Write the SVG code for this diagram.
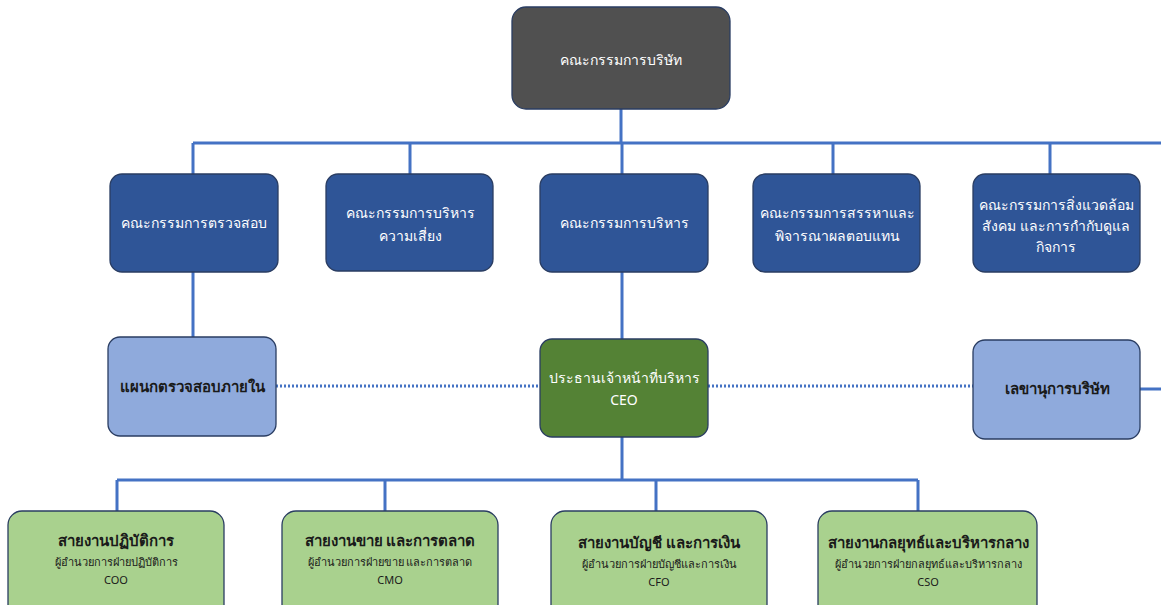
<svg xmlns="http://www.w3.org/2000/svg" width="1161" height="605" viewBox="0 0 1161 605">
<style>
text{font-family:"Noto Sans","Liberation Sans",sans-serif;text-anchor:middle;}
.box{stroke:#2A3D62;stroke-width:1.3;}
.top{fill:#505050;}
.l2{fill:#2F5597;}
.l3{fill:#8FAADC;}
.ceo{fill:#548235;}
.l4{fill:#A9D18E;}
.w{fill:#ffffff;font-size:14px;}
.d{fill:#1a1a1a;font-size:15px;font-weight:bold;}
.t4{fill:#1a1a1a;font-size:15px;font-weight:bold;}
.s4{fill:#1a1a1a;font-size:11px;}
.ln{stroke:#4472C4;stroke-width:3;fill:none;}
.dot{stroke:#4472C4;stroke-width:3;fill:none;stroke-dasharray:2 2;}
</style>
<g id="connectors">
<path class="ln" d="M621 109V143M193 143H1161M193 143V174M410 143V174M622 143V174M833 143V174M1050 143V174"/>
<path class="ln" d="M193 272V337M622 272V339M1140 389H1161"/>
<path class="dot" d="M276 386H540M708 386H973"/>
<path class="ln" d="M622 437V480M117 480H918M117 480V511M385 480V511M656 480V511M918 480V511"/>
</g>
<g id="board"><rect class="box top" x="512" y="7" width="218" height="102" rx="14"/><text class="w" x="621" y="65">คณะกรรมการบริษัท</text></g>
<g id="audit"><rect class="box l2" x="110" y="174" width="168" height="98" rx="12"/><text class="w" x="194" y="228">คณะกรรมการตรวจสอบ</text></g>
<g id="risk"><rect class="box l2" x="326" y="174" width="167" height="97" rx="12"/><text class="w" x="410" y="218">คณะกรรมการบริหาร</text><text class="w" x="410" y="241">ความเสี่ยง</text></g>
<g id="exec"><rect class="box l2" x="540" y="174" width="168" height="98" rx="12"/><text class="w" x="624" y="228">คณะกรรมการบริหาร</text></g>
<g id="nomination"><rect class="box l2" x="753" y="174" width="167" height="98" rx="12"/><text class="w" x="837" y="218">คณะกรรมการสรรหาและ</text><text class="w" x="837" y="241">พิจารณาผลตอบแทน</text></g>
<g id="esg"><rect class="box l2" x="973" y="174" width="167" height="98" rx="12"/><text class="w" x="1056" y="210">คณะกรรมการสิ่งแวดล้อม</text><text class="w" x="1056" y="231">สังคม และการกำกับดูแล</text><text class="w" x="1056" y="252">กิจการ</text></g>
<g id="internal-audit"><rect class="box l3" x="108" y="337" width="168" height="99" rx="12"/><text class="d" x="192" y="392">แผนกตรวจสอบภายใน</text></g>
<g id="ceo"><rect class="box ceo" x="540" y="339" width="168" height="98" rx="12"/><text class="w" x="624" y="383">ประธานเจ้าหน้าที่บริหาร</text><text class="w" x="624" y="405">CEO</text></g>
<g id="secretary"><rect class="box l3" x="973" y="340" width="167" height="99" rx="12"/><text class="d" x="1057" y="394">เลขานุการบริษัท</text></g>
<g id="coo"><rect class="box l4" x="8" y="511" width="216" height="110" rx="14"/><text class="t4" x="116" y="546">สายงานปฏิบัติการ</text><text class="s4" x="116" y="566">ผู้อำนวยการฝ่ายปฏิบัติการ</text><text class="s4" x="116" y="584">COO</text></g>
<g id="cmo"><rect class="box l4" x="282" y="511" width="216" height="110" rx="14"/><text class="t4" x="390" y="546">สายงานขาย และการตลาด</text><text class="s4" x="390" y="566">ผู้อำนวยการฝ่ายขาย และการตลาด</text><text class="s4" x="390" y="584">CMO</text></g>
<g id="cfo"><rect class="box l4" x="551" y="511" width="216" height="110" rx="14"/><text class="t4" x="659" y="548">สายงานบัญชี และการเงิน</text><text class="s4" x="659" y="568">ผู้อำนวยการฝ่ายบัญชีและการเงิน</text><text class="s4" x="659" y="586">CFO</text></g>
<g id="cso"><rect class="box l4" x="818" y="511" width="219" height="110" rx="14"/><text class="t4" x="928" y="548">สายงานกลยุทธ์และบริหารกลาง</text><text class="s4" x="928" y="568">ผู้อำนวยการฝ่ายกลยุทธ์และบริหารกลาง</text><text class="s4" x="928" y="586">CSO</text></g>
</svg>
